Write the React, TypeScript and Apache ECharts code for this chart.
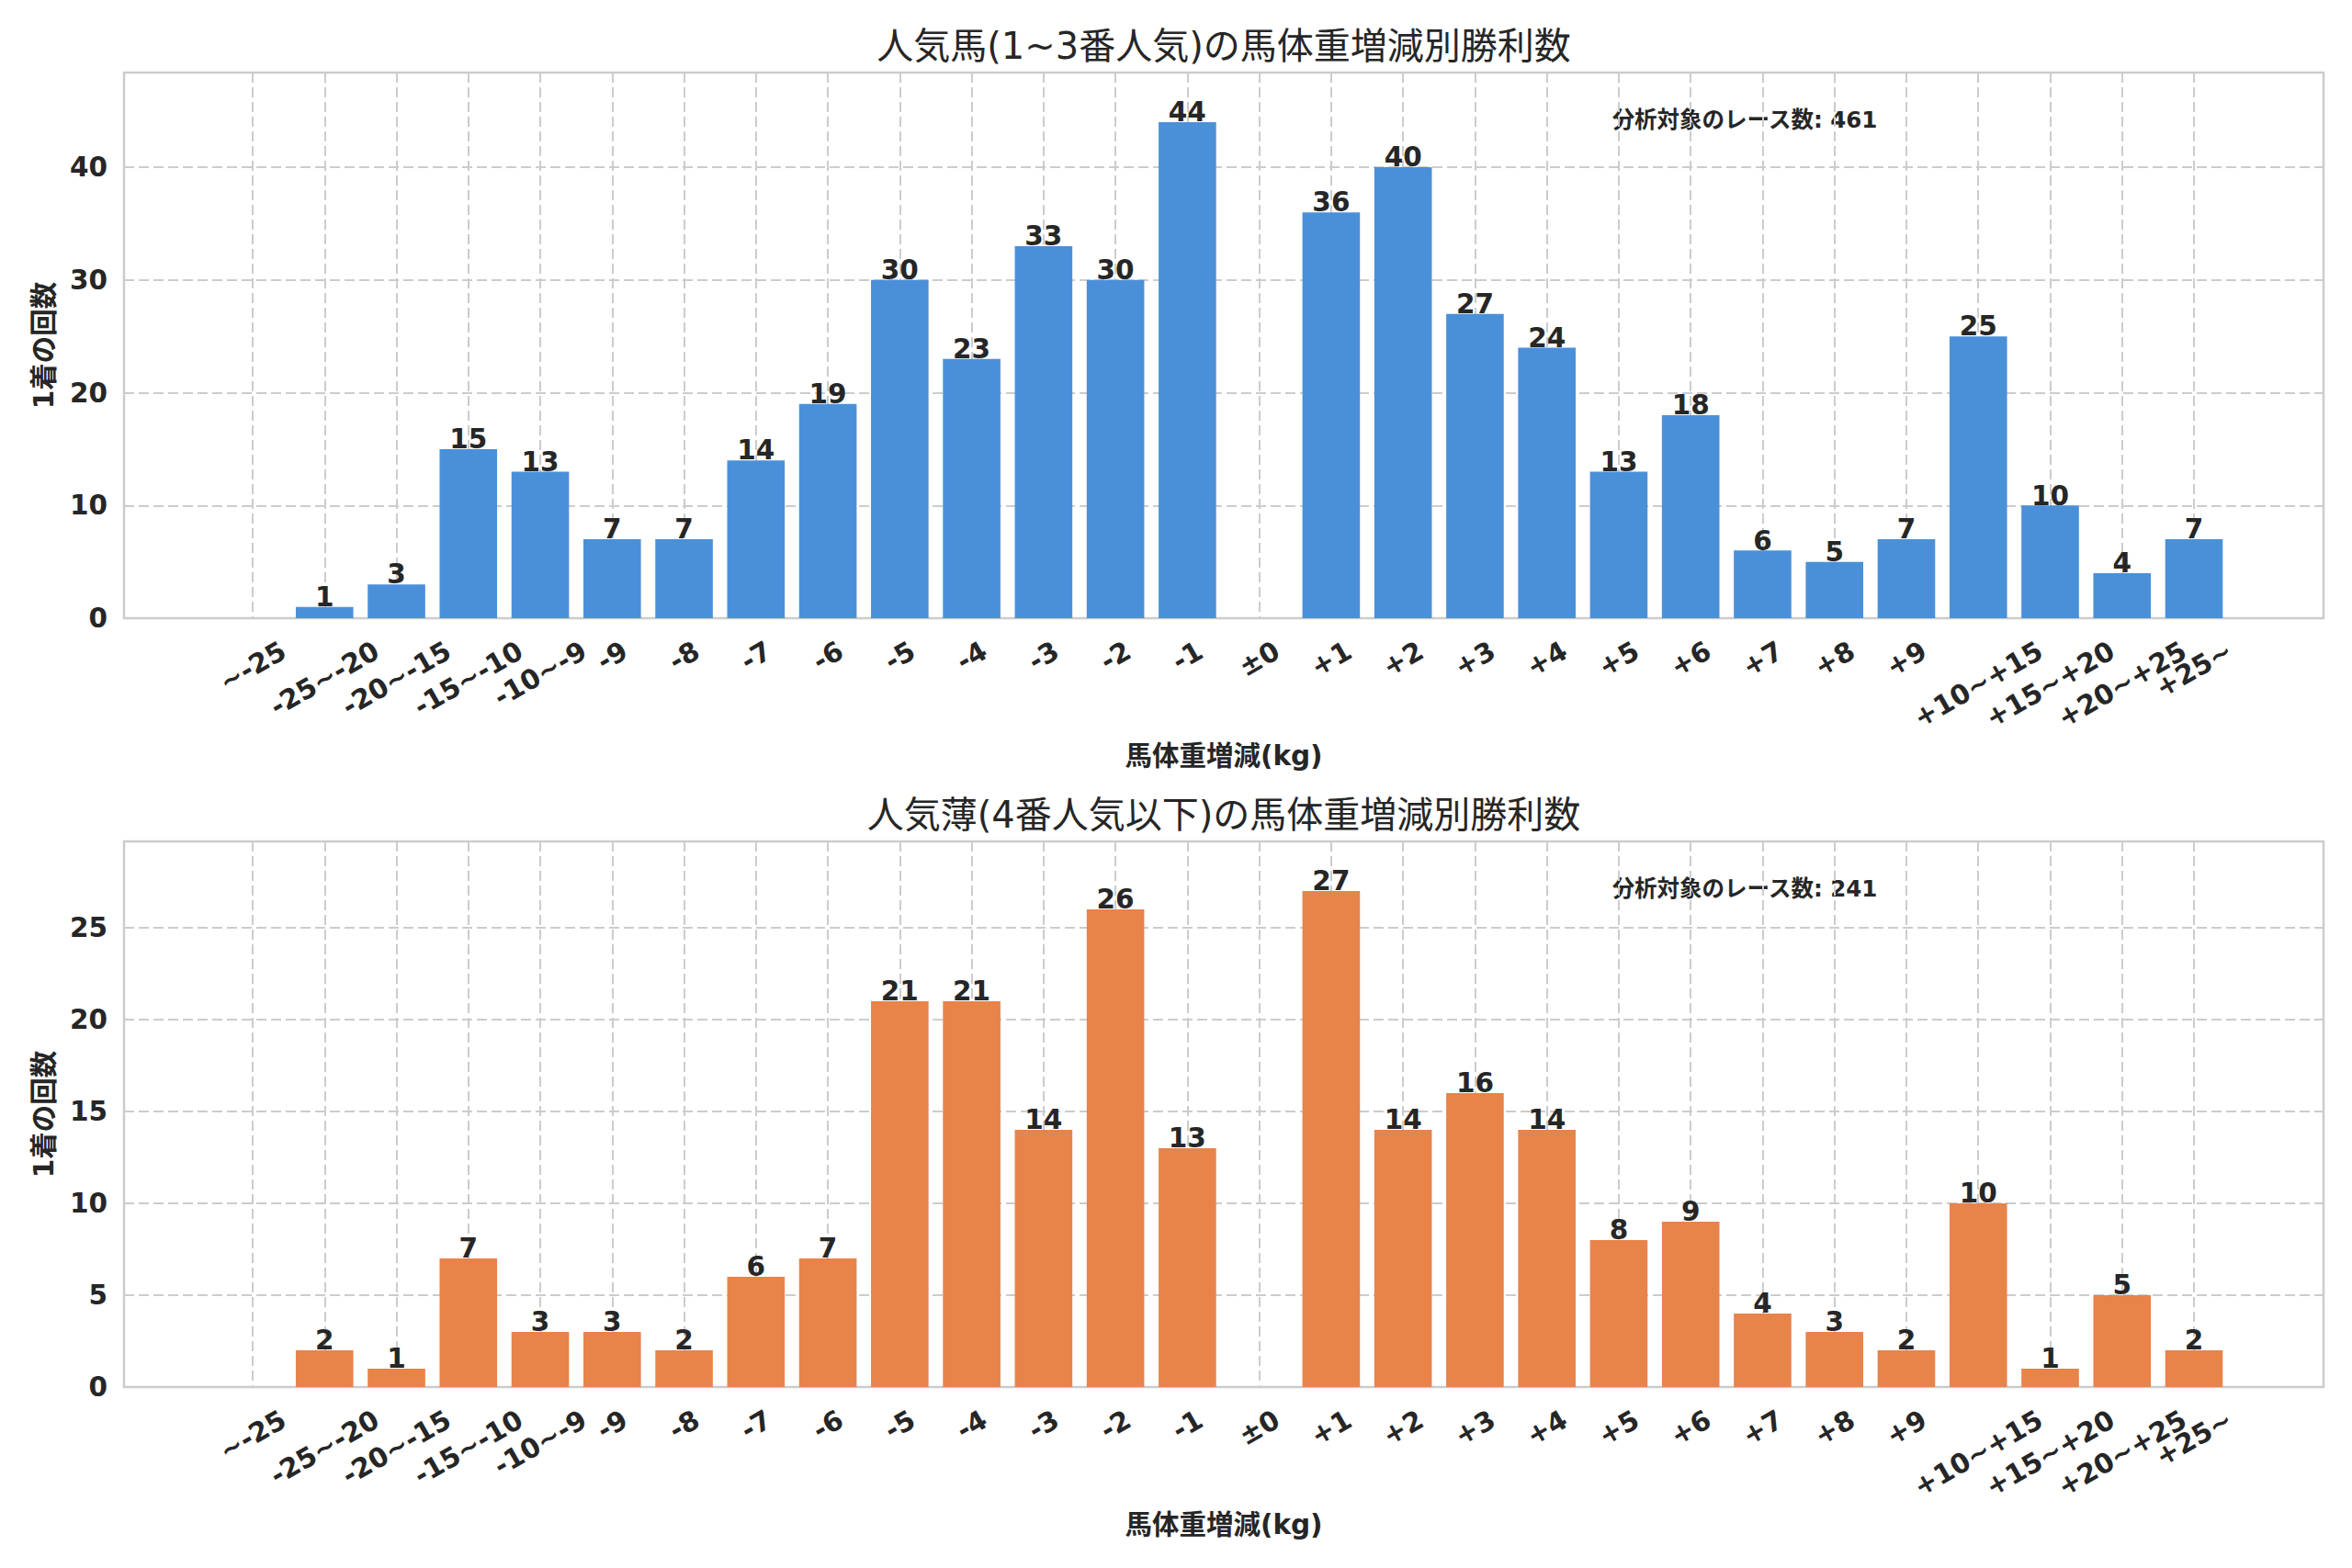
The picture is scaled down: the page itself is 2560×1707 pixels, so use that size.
import React, { useEffect, useRef } from 'react';
import * as echarts from 'echarts';

const categories = [
  '~-25', '-25~-20', '-20~-15', '-15~-10', '-10~-9', '-9', '-8', '-7', '-6', '-5', '-4', '-3', '-2', '-1',
  '±0', '+1', '+2', '+3', '+4', '+5', '+6', '+7', '+8', '+9', '+10~+15', '+15~+20', '+20~+25', '+25~',
];
const topValues = [0, 1, 3, 15, 13, 7, 7, 14, 19, 30, 23, 33, 30, 44, 0, 36, 40, 27, 24, 13, 18, 6, 5, 7, 25, 10, 4, 7];
const bottomValues = [0, 2, 1, 7, 3, 3, 2, 6, 7, 21, 21, 14, 26, 13, 0, 27, 14, 16, 14, 8, 9, 4, 3, 2, 10, 1, 5, 2];
const topTitle = '人気馬(1~3番人気)の馬体重増減別勝利数';
const bottomTitle = '人気薄(4番人気以下)の馬体重増減別勝利数';
const xLabel = '馬体重増減(kg)';
const yLabel = '1着の回数';
const totalLabel = '分析対象のレース数';
const topInterval = 10;
const bottomInterval = 5;
const topColor = '#4a90d9';
const bottomColor = '#e8834a';

const TEXT = '#262626';
const FONT = "'DejaVu Sans', 'Noto Sans CJK JP', sans-serif";
const GRID_COLOR = '#cccccc';
const TICK_FS = 29.5;
const STEP = 78.26;

function textWidth(s: string): number {
  let w = 0;
  for (const c of s) {
    if (/[0-9]/.test(c)) w += 0.696;
    else if (c === '-') w += 0.415;
    else w += 0.838;
  }
  return w * TICK_FS;
}

function buildRich() {
  const rich: Record<string, any> = {};
  categories.forEach((c, i) => {
    const d = textWidth(c) / 4;
    rich['l' + i] = {
      fontSize: TICK_FS,
      fontWeight: 'bold',
      color: TEXT,
      fontFamily: FONT,
      padding: [1.732 * d, d, 0, 0],
    };
  });
  return rich;
}

export default function App() {
  const ref = useRef<HTMLDivElement>(null);
  useEffect(() => {
    if (!ref.current) return;
    const chart = echarts.init(ref.current, null, { renderer: 'svg' });
    const panels = [
      { top: 79, values: topValues, color: topColor, title: topTitle, interval: topInterval },
      { top: 916, values: bottomValues, color: bottomColor, title: bottomTitle, interval: bottomInterval },
    ];
    const n = categories.length;
    const grid: any[] = [];
    const xAxis: any[] = [];
    const yAxis: any[] = [];
    const series: any[] = [];
    const graphic: any[] = [];
    const rich = buildRich();
    const dashed = { color: GRID_COLOR, width: 2, type: [11, 5] };
    // one extra (hidden) slot at the end so that every real label is an ordinary tick label
    const xLineColors = Array.from({ length: n + 1 }, (_, i) => (i < n ? GRID_COLOR : 'rgba(0,0,0,0)'));
    panels.forEach((p, k) => {
      const ymax = Math.max(...p.values) * 1.1;
      const total = p.values.reduce((a, b) => a + b, 0);
      grid.push({
        left: 135, top: p.top, width: 2394, height: 594, show: true,
        borderColor: GRID_COLOR, borderWidth: 2.5, backgroundColor: 'transparent',
        containLabel: false, outerBoundsMode: 'none',
      });
      grid.push({
        left: 275, top: p.top, width: STEP * n, height: 594, show: false,
        containLabel: false, outerBoundsMode: 'none',
      });
      xAxis.push({ gridIndex: 2 * k, type: 'value', min: 0, max: 1, show: false });
      xAxis.push({
        gridIndex: 2 * k + 1, type: 'value', min: 0, max: n, interval: 1,
        axisLine: { show: false }, axisTick: { show: false },
        splitLine: { show: true, lineStyle: { ...dashed, color: xLineColors } },
        axisLabel: {
          rotate: 30, align: 'center', verticalAlign: 'middle', margin: 33,
          showMinLabel: true, showMaxLabel: false, hideOverlap: false,
          fontSize: TICK_FS, fontWeight: 'bold', color: TEXT, fontFamily: FONT,
          formatter: (v: number) => {
            const i = Math.round(v);
            if (i < 0 || i >= n) return '';
            return '{l' + i + '|' + categories[i] + '}';
          },
          rich,
        },
        name: xLabel, nameLocation: 'start', nameGap: 0,
        nameTextStyle: { fontSize: 0 },
      });
      yAxis.push({
        gridIndex: 2 * k, type: 'value', min: 0, max: ymax, interval: p.interval,
        axisLine: { show: false }, axisTick: { show: false },
        splitLine: { show: true, lineStyle: dashed },
        axisLabel: {
          fontSize: TICK_FS, fontWeight: 'bold', color: TEXT, fontFamily: FONT, margin: 18,
          showMaxLabel: false,
        },
        name: yLabel, nameLocation: 'middle', nameGap: 72, nameRotate: 90,
        nameTextStyle: { fontSize: 29.5, fontWeight: 'bold', color: TEXT, fontFamily: FONT },
      });
      yAxis.push({ gridIndex: 2 * k + 1, type: 'value', min: 0, max: ymax, show: false });
      series.push({
        type: 'bar', xAxisIndex: 2 * k + 1, yAxisIndex: 2 * k + 1,
        data: p.values.map((v, i) => [i, v]),
        barWidth: STEP * 0.8, clip: false,
        itemStyle: { color: p.color, borderWidth: 0 },
        label: {
          show: true, position: 'top', distance: -4,
          formatter: (pr: any) => (pr.value[1] > 0 ? String(pr.value[1]) : ''),
          fontSize: TICK_FS, fontWeight: 'bold', color: TEXT, fontFamily: FONT,
        },
      });
      graphic.push({
        type: 'text', x: 1332, y: p.top - 29,
        style: { text: p.title, align: 'center', verticalAlign: 'middle', fontSize: 40, fill: TEXT, fontFamily: FONT },
      });
      graphic.push({
        type: 'text', x: 1332, y: p.top + 594 + 150,
        style: {
          text: xLabel, align: 'center', verticalAlign: 'middle',
          fontSize: 29.5, fontWeight: 'bold', fill: TEXT, fontFamily: FONT,
        },
      });
      graphic.push({
        type: 'text', x: 1899, y: p.top + 51,
        style: {
          text: totalLabel + ': ' + total, align: 'center', verticalAlign: 'middle',
          fontSize: 24.5, fontWeight: 'bold', fill: TEXT, fontFamily: FONT,
        },
      });
    });
    chart.setOption({
      animation: false,
      backgroundColor: '#ffffff',
      textStyle: { fontFamily: FONT },
      grid, xAxis, yAxis, series, graphic,
    });
    return () => chart.dispose();
  }, []);
  return <div ref={ref} style={{ position: 'absolute', left: 0, top: 0, width: 2560, height: 1707 }} />;
}
